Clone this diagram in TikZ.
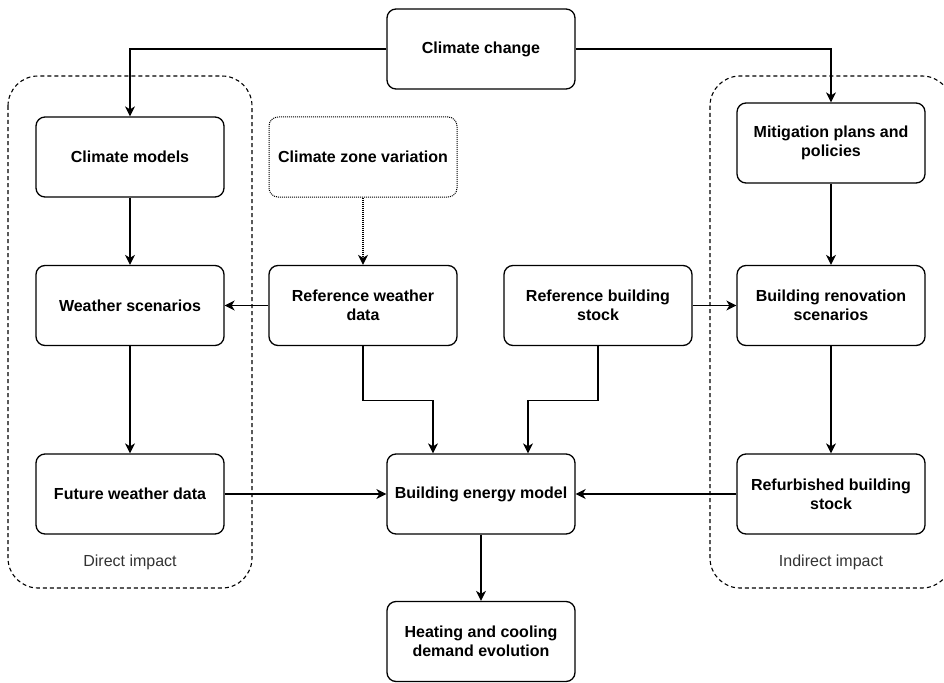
\documentclass[tikz,border=0pt]{standalone}
\usepackage{fontspec}
\setmainfont{Liberation Sans}
\usetikzlibrary{arrows.meta}
\begin{document}
\begin{tikzpicture}[x=1pt,y=-1pt,
  box/.style={draw, line width=1.3pt, rounded corners=9pt, minimum width=188pt, minimum height=80pt, align=center, font=\bfseries\fontsize{16}{19}\selectfont, inner sep=2pt},
  dotbox/.style={box, dash pattern=on 1pt off 1pt, line width=1pt},
  grp/.style={draw, line width=1.1pt, dash pattern=on 4pt off 3pt, rounded corners=30pt},
  grplabel/.style={font=\fontsize{16}{19}\selectfont, text=black!80},
  arr/.style={-{Stealth[length=10pt,width=10pt,inset=3pt]}, line width=1.3pt},
  dotarr/.style={arr, dash pattern=on 1pt off 1pt}
]
\useasboundingbox (0,0) rectangle (944,682);
\fill[white] (0,0) rectangle (944,682);

% groups
\draw[grp] (8,76) rectangle (252,588);
\draw[grp] (710,76) rectangle (952,588);
\node[grplabel] (ldir) at (130,562) {Direct impact};
\node[grplabel] (lind) at (831,562) {Indirect impact};

% nodes
\node[box] (cc) at (481,49) {Climate change};
\node[box] (cm) at (130,157) {Climate models};
\node[dotbox] (czv) at (363,157) {Climate zone variation};
\node[box] (mit) at (831,143) {Mitigation plans and\\policies};
\node[box] (ws) at (130,305.5) {Weather scenarios};
\node[box] (rwd) at (363,305.5) {Reference weather\\data};
\node[box] (rbs) at (598,305.5) {Reference building\\stock};
\node[box] (brs) at (831,305.5) {Building renovation\\scenarios};
\node[box] (fwd) at (130,494) {Future weather data};
\node[box] (bem) at (481,494) {Building energy model};
\node[box] (rfb) at (831,494) {Refurbished building\\stock};
\node[box] (hcd) at (481,641.5) {Heating and cooling\\demand evolution};

% connectors
\draw[arr] (cc.west) -| (cm.north);
\draw[arr] (cc.east) -| (mit.north);
\draw[arr] (cm) -- (ws);
\draw[arr] (ws) -- (fwd);
\draw[dotarr] (czv) -- (rwd);
\draw[arr] (rwd.west) -- (ws.east);
\draw[arr] (rbs.east) -- (brs.west);
\draw[arr] (mit) -- (brs);
\draw[arr] (brs) -- (rfb);
\draw[arr] (rwd.south) -- ++(0,54) -| ([xshift=-48pt]bem.north);
\draw[arr] (rbs.south) -- ++(0,54) -| ([xshift=47pt]bem.north);
\draw[arr] (fwd.east) -- (bem.west);
\draw[arr] (rfb.west) -- (bem.east);
\draw[arr] (bem) -- (hcd);
\end{tikzpicture}
\end{document}
